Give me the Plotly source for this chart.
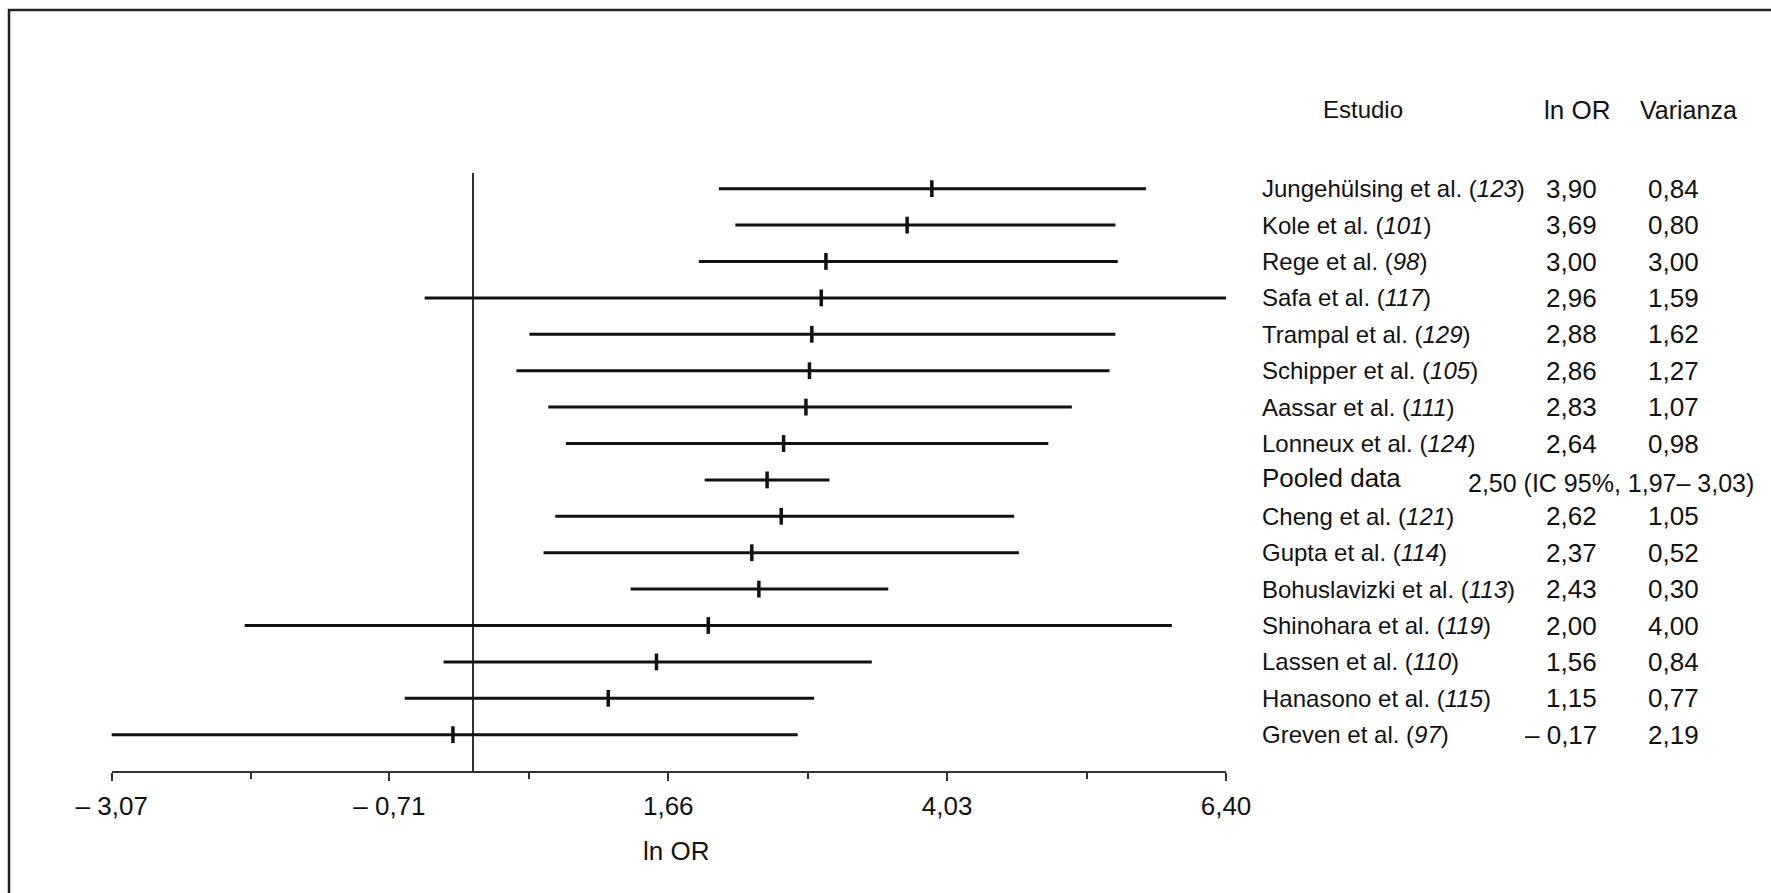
import plotly.graph_objects as go

# ---- data -------------------------------------------------------------
studies = ["Jungehülsing et al.", "Kole et al.", "Rege et al.", "Safa et al.",
           "Trampal et al.", "Schipper et al.", "Aassar et al.", "Lonneux et al.",
           "Pooled data", "Cheng et al.", "Gupta et al.", "Bohuslavizki et al.",
           "Shinohara et al.", "Lassen et al.", "Hanasono et al.", "Greven et al."]
refs = ["123", "101", "98", "117", "129", "105", "111", "124",
        None, "121", "114", "113", "119", "110", "115", "97"]
ln_or = [3.90, 3.69, 3.00, 2.96, 2.88, 2.86, 2.83, 2.64,
         2.50, 2.62, 2.37, 2.43, 2.00, 1.56, 1.15, -0.17]
varianza = [0.84, 0.80, 3.00, 1.59, 1.62, 1.27, 1.07, 0.98,
            None, 1.05, 0.52, 0.30, 4.00, 0.84, 0.77, 2.19]
ci_low = [2.09, 2.23, 1.92, -0.41, 0.48, 0.37, 0.64, 0.79,
          1.97, 0.70, 0.60, 1.34, -1.94, -0.25, -0.58, -3.09]
ci_high = [5.72, 5.46, 5.48, 6.42, 5.46, 5.41, 5.09, 4.89,
           3.03, 4.60, 4.64, 3.53, 5.94, 3.39, 2.90, 2.76]

major_ticks = [-3.07, -0.71, 1.66, 4.03, 6.40]
major_labels = ["– 3,07", "– 0,71", "1,66", "4,03", "6,40"]
minor_ticks = [-1.89, 0.48, 2.85, 5.22]

# ---- layout geometry (pixels) ----------------------------------------
W, H = 1771, 893
PLOT_L, PLOT_R = 111.7, 1226.0
AXIS_Y, PLOT_TOP = 771.0, 173.0
ROW1_Y, ROW_STEP = 188.7, 36.4
FONT = "Liberation Sans, Arial, Helvetica, sans-serif"
INK = "#111111"

rows = list(range(1, len(studies) + 1))
y_top = 1 - (ROW1_Y - PLOT_TOP) / ROW_STEP
y_bot = 1 + (AXIS_Y - ROW1_Y) / ROW_STEP


def fmt(v):
    s = f"{abs(v):.2f}".replace(".", ",")
    return ("– " + s) if v < 0 else s


def px_x(x):
    return x / W


def px_y(y):
    return 1 - y / H


fig = go.Figure()
fig.add_trace(go.Scatter(
    x=ln_or, y=rows, mode="markers",
    marker=dict(symbol="line-ns", size=12, color=INK,
                line=dict(width=3.5, color=INK)),
    error_x=dict(type="data", symmetric=False,
                 array=[h - m for h, m in zip(ci_high, ln_or)],
                 arrayminus=[m - l for m, l in zip(ln_or, ci_low)],
                 color=INK, thickness=3, width=0),
    hoverinfo="skip", showlegend=False,
))

annotations = []
# column headers
for txt, xc, size in [("Estudio", 1363, 24), ("ln OR", 1577, 26), ("Varianza", 1688, 25)]:
    annotations.append(dict(text=txt, x=px_x(xc), y=px_y(110), xref="paper", yref="paper",
                            xanchor="center", yanchor="middle", showarrow=False,
                            font=dict(family=FONT, size=size, color=INK)))

for r, name, ref, v, var, lo, hi in zip(rows, studies, refs, ln_or, varianza, ci_low, ci_high):
    if ref is None:
        annotations.append(dict(text=name, x=px_x(1260), y=r - 0.06, xref="paper", yref="y",
                                xanchor="left", yanchor="middle", showarrow=False,
                                font=dict(family=FONT, size=26, color=INK)))
        annotations.append(dict(text=f"{fmt(v)} (IC 95%, {fmt(lo)}– {fmt(hi)})",
                                x=px_x(1756), y=r + 0.08, xref="paper", yref="y",
                                xanchor="right", yanchor="middle", showarrow=False,
                                font=dict(family=FONT, size=25, color=INK)))
        continue
    annotations.append(dict(text=f"{name} (<i>{ref}</i>)", x=px_x(1260), y=r,
                            xref="paper", yref="y", xanchor="left", yanchor="middle",
                            showarrow=False, font=dict(family=FONT, size=24, color=INK)))
    annotations.append(dict(text=fmt(v), x=px_x(1599), y=r, xref="paper", yref="y",
                            xanchor="right", yanchor="middle", showarrow=False,
                            font=dict(family=FONT, size=26, color=INK)))
    annotations.append(dict(text=fmt(var), x=px_x(1701), y=r, xref="paper", yref="y",
                            xanchor="right", yanchor="middle", showarrow=False,
                            font=dict(family=FONT, size=26, color=INK)))

# axis title
annotations.append(dict(text="ln OR", x=px_x(676), y=px_y(851), xref="paper", yref="paper",
                        xanchor="center", yanchor="middle", showarrow=False,
                        font=dict(family=FONT, size=26, color=INK)))

fig.update_layout(
    width=W, height=H,
    margin=dict(l=0, r=0, t=0, b=0, autoexpand=False),
    paper_bgcolor="white", plot_bgcolor="white",
    showlegend=False,
    annotations=annotations,
    shapes=[dict(type="rect", xref="paper", yref="paper",
                 x0=px_x(9), x1=1.05, y0=-0.05, y1=px_y(10),
                 line=dict(color="#222222", width=2.5), fillcolor="rgba(0,0,0,0)",
                 layer="below")],
    xaxis=dict(
        domain=[px_x(PLOT_L), px_x(PLOT_R)],
        range=[major_ticks[0], major_ticks[-1]],
        automargin=False,
        showgrid=False, showline=True, linecolor="#333333", linewidth=1.5,
        zeroline=True, zerolinecolor="#333333", zerolinewidth=1.5,
        ticks="outside", ticklen=8, tickwidth=1.5, tickcolor="#333333",
        tickmode="array", tickvals=major_ticks, ticktext=major_labels,
        ticklabelstandoff=3,
        tickfont=dict(family=FONT, size=26, color=INK),
        minor=dict(tickmode="array", tickvals=minor_ticks, ticks="outside",
                   ticklen=6, tickwidth=1.5, tickcolor="#333333", showgrid=False),
        fixedrange=True,
    ),
    yaxis=dict(
        domain=[px_y(AXIS_Y), px_y(PLOT_TOP)],
        range=[y_bot, y_top],
        automargin=False,
        visible=False, showgrid=False, zeroline=False, fixedrange=True,
    ),
)

fig.write_html("out.html")
